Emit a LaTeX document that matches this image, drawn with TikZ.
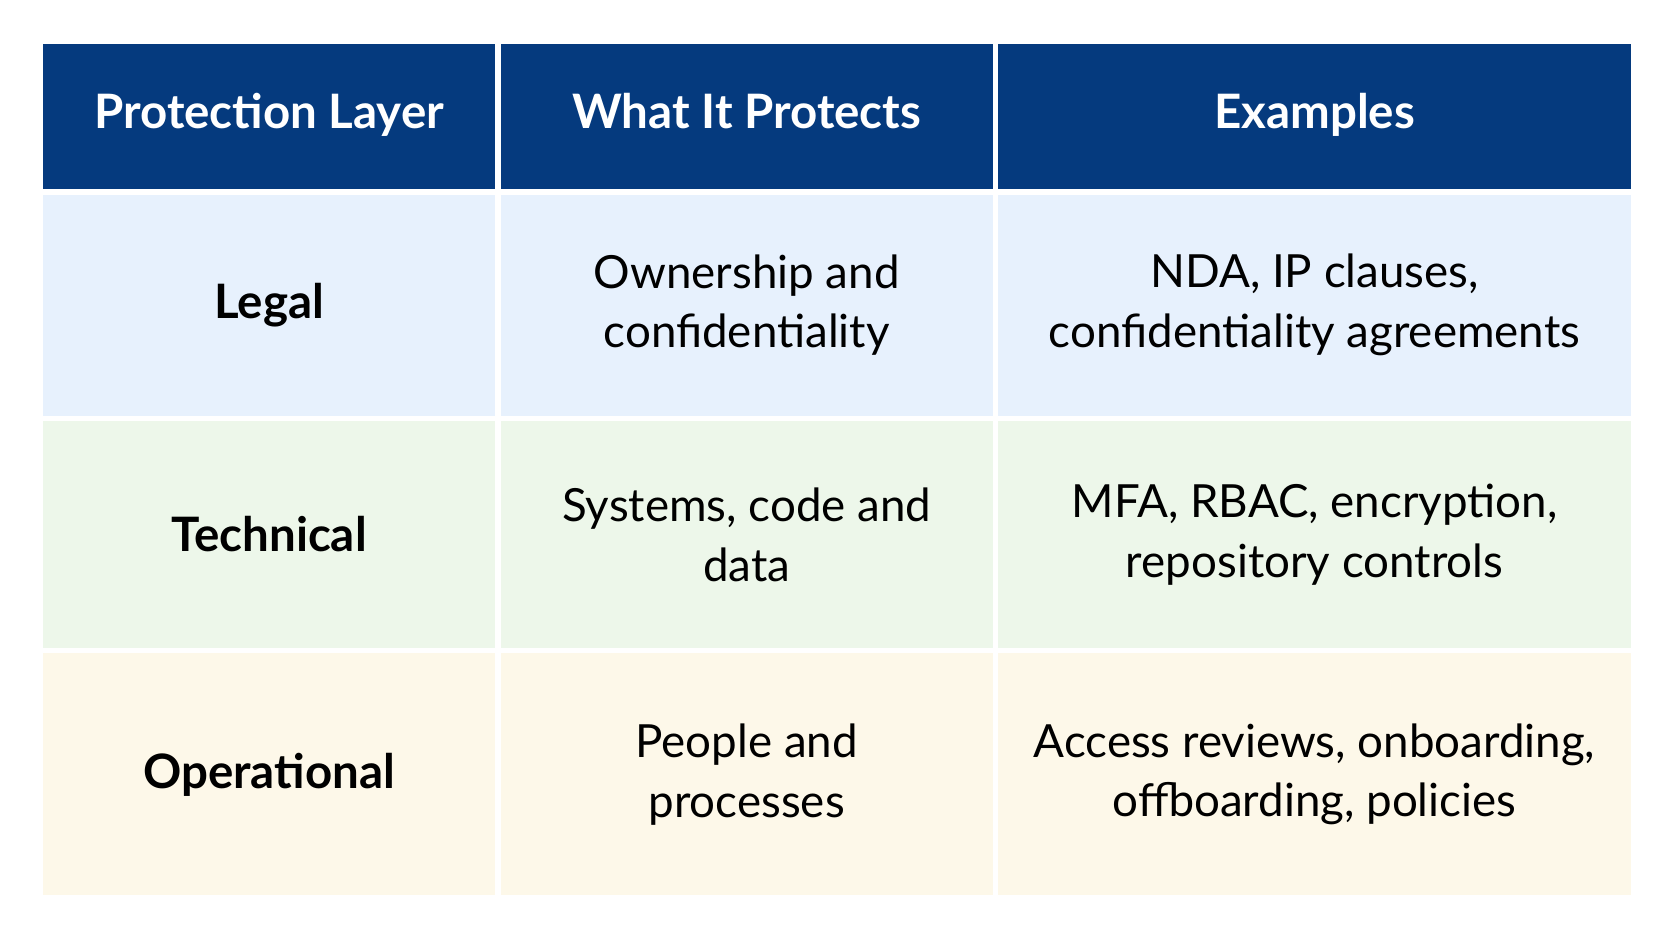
\documentclass[tikz,border=0pt]{standalone}
\usepackage{fontspec}
\setmainfont{Lato}
\usepackage{tikz}
\definecolor{headblue}{HTML}{053A7E}
\definecolor{legalbg}{HTML}{E7F1FD}
\definecolor{techbg}{HTML}{EDF7EA}
\definecolor{operbg}{HTML}{FDF8E9}
\begin{document}
\begin{tikzpicture}[
    cell/.style={draw=white,line width=0.8pt,minimum height=#1,anchor=north west,
      inner sep=0pt,align=center,font=\fontsize{13}{17}\selectfont},
    head/.style={fill=headblue,text=white,font=\fontsize{13.5}{17}\selectfont\bfseries},
    firstcol/.style={font=\fontsize{13.5}{17}\selectfont\bfseries},
    wa/.style={minimum width=4.545cm},
    wb/.style={minimum width=4.95cm},
    wc/.style={minimum width=6.35cm}]
    \useasboundingbox (0,0) rectangle (16.72,9.41);
    % Header row
    \node[cell=1.475cm,wa,head] (h1) at (0.405,8.995) {\strut Protection Layer};
    \node[cell=1.475cm,wb,head] (h2) at (h1.north east) {\strut What It Protects};
    \node[cell=1.475cm,wc,head] (h3) at (h2.north east) {\strut Examples};
    % Legal
    \node[cell=2.24cm,wa,fill=legalbg,firstcol] (l1) at (h1.south west) {Legal};
    \node[cell=2.24cm,wb,fill=legalbg] (l2) at (l1.north east) {Ownership and\\confidentiality};
    \node[cell=2.24cm,wc,fill=legalbg] (l3) at (l2.north east) {NDA, IP clauses,\\confidentiality agreements};
    % Technical
    \node[cell=2.29cm,wa,fill=techbg,firstcol] (t1) at (l1.south west) {Technical};
    \node[cell=2.29cm,wb,fill=techbg] (t2) at (t1.north east) {Systems, code and\\data};
    \node[cell=2.29cm,wc,fill=techbg] (t3) at (t2.north east) {MFA, RBAC, encryption,\\repository controls};
    % Operational
    \node[cell=2.45cm,wa,fill=operbg,firstcol] (o1) at (t1.south west) {Operational};
    \node[cell=2.45cm,wb,fill=operbg] (o2) at (o1.north east) {People and\\processes};
    \node[cell=2.45cm,wc,fill=operbg] (o3) at (o2.north east) {Access reviews, onboarding,\\offboarding, policies};
  \end{tikzpicture}
\end{document}
